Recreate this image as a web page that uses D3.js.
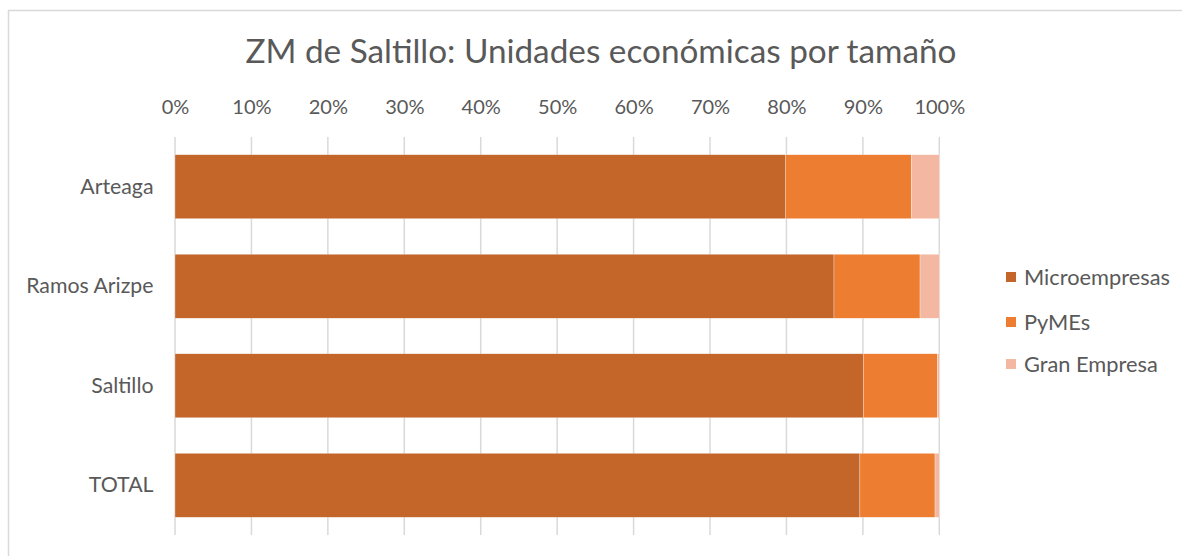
<!DOCTYPE html>
<html>
<head>
<meta charset="utf-8">
<script src="https://cdn.jsdelivr.net/npm/d3@7"></script>
<style>
  html, body { margin: 0; padding: 0; background: #fff; }
  svg { display: block; }
  text { font-family: Lato, "Open Sans", sans-serif; fill: #595959; }
</style>
</head>
<body>
<svg id="chart" width="1182" height="556"></svg>
<script>
// Share of economic units by company size, per municipality
const categories = ["Arteaga", "Ramos Arizpe", "Saltillo", "TOTAL"];
const seriesNames = ["Microempresas", "PyMEs", "Gran Empresa"];
const microempresas = [0.7985, 0.8622, 0.9006, 0.8961];
const pymes = [0.1649, 0.1126, 0.0968, 0.0983];
const granEmpresa = [0.0366, 0.0252, 0.0026, 0.0056];
const tickValues = [0, 0.1, 0.2, 0.3, 0.4, 0.5, 0.6, 0.7, 0.8, 0.9, 1.0];
const colors = ["#C4652A", "#ED7D31", "#F4B8A2"];
const title = "ZM de Saltillo: Unidades económicas por tamaño";

const rows = categories.map((c, i) => ({
  category: c,
  "Microempresas": microempresas[i],
  "PyMEs": pymes[i],
  "Gran Empresa": granEmpresa[i]
}));

const svg = d3.select("#chart");

// outer frame of the chart area
svg.append("rect")
  .attr("x", 8.5).attr("y", 10.5)
  .attr("width", 1200).attr("height", 600)
  .attr("fill", "none").attr("stroke", "#D9D9D9").attr("stroke-width", 1.5);

const x = d3.scaleLinear().domain([0, 1]).range([175, 939.3]);
const y = d3.scaleBand().domain(categories).range([137, 535]).paddingInner(0.357).paddingOuter(0.178);

// title
svg.append("text")
  .attr("x", 601).attr("y", 63)
  .attr("text-anchor", "middle")
  .style("font-size", "33.3px")
  .text(title);

// gridlines
svg.append("g")
  .selectAll("line")
  .data(tickValues)
  .join("line")
  .attr("x1", d => x(d)).attr("x2", d => x(d))
  .attr("y1", 137).attr("y2", 535)
  .attr("stroke", "#D9D9D9").attr("stroke-width", 1.5);

// top axis labels
const xAxis = d3.axisTop(x).tickValues(tickValues).tickFormat(d3.format(".0%")).tickSize(0).tickPadding(0);
const gx = svg.append("g").attr("transform", "translate(0,114)").call(xAxis);
gx.select(".domain").remove();
gx.selectAll("text").style("font-size", "20px").attr("fill", "#595959").attr("dy", 0)
  .style("font-family", "Lato, sans-serif");

// category labels
const yAxis = d3.axisLeft(y).tickSize(0).tickPadding(0);
const gy = svg.append("g").attr("transform", "translate(153.5,0)").call(yAxis);
gy.select(".domain").remove();
gy.selectAll("text").style("font-size", "21.3px").attr("fill", "#595959")
  .style("font-family", "Lato, sans-serif");

// stacked bars
const stacked = d3.stack().keys(seriesNames)(rows);
svg.append("g")
  .selectAll("g")
  .data(stacked)
  .join("g")
  .attr("fill", (d, i) => colors[i])
  .selectAll("rect")
  .data(d => d)
  .join("rect")
  .attr("x", d => x(d[0]))
  .attr("width", d => x(d[1]) - x(d[0]))
  .attr("y", d => y(d.data.category))
  .attr("height", y.bandwidth())
  .attr("stroke", "#fff").attr("stroke-width", 0.5).attr("stroke-opacity", 0.6);

// legend
const legend = svg.append("g").attr("transform", "translate(1006,0)");
const legendY = [277, 322, 364];
seriesNames.forEach((name, i) => {
  legend.append("rect")
    .attr("x", 0).attr("y", legendY[i] - 5)
    .attr("width", 10).attr("height", 10)
    .attr("fill", colors[i]);
  legend.append("text")
    .attr("x", 18).attr("y", legendY[i])
    .attr("dy", "0.35em")
    .style("font-size", "21.8px")
    .text(name);
});
</script>
</body>
</html>
